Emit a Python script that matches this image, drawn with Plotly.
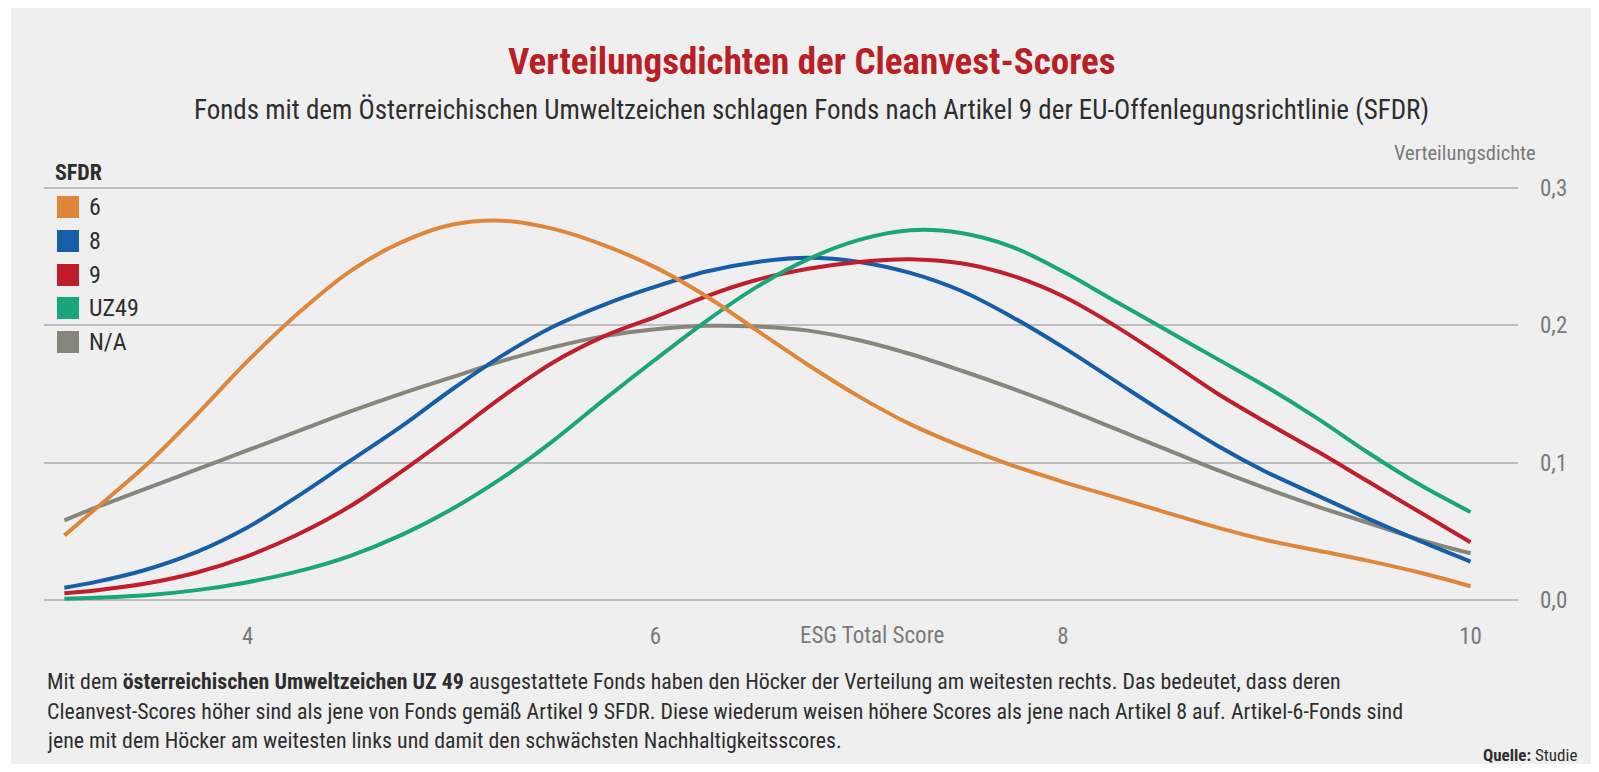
import plotly.graph_objects as go

# ---------------- data ----------------
scores = [3.1, 3.25, 3.5, 3.75, 4.0, 4.25, 4.5, 4.75, 5.0, 5.25, 5.5, 5.75,
          6.0, 6.25, 6.5, 6.75, 7.0, 7.25, 7.5, 7.75, 8.0, 8.25, 8.5, 8.75,
          9.0, 9.25, 9.5, 9.75, 10.0]

sfdr_6 = [0.047, 0.066, 0.098, 0.135, 0.174, 0.209, 0.239, 0.260, 0.273, 0.276,
          0.270, 0.258, 0.242, 0.221, 0.196, 0.171, 0.148, 0.128, 0.112, 0.098,
          0.086, 0.075, 0.064, 0.053, 0.0435, 0.036, 0.0285, 0.020, 0.010]

sfdr_8 = [0.009, 0.013, 0.022, 0.035, 0.053, 0.076, 0.101, 0.126, 0.153, 0.178,
          0.199, 0.215, 0.228, 0.239, 0.246, 0.249, 0.246, 0.238, 0.225, 0.206,
          0.184, 0.160, 0.136, 0.113, 0.093, 0.076, 0.059, 0.043, 0.028]

sfdr_9 = [0.005, 0.007, 0.012, 0.020, 0.032, 0.048, 0.068, 0.093, 0.120, 0.148,
          0.173, 0.192, 0.206, 0.221, 0.233, 0.241, 0.246, 0.248, 0.245, 0.236,
          0.221, 0.200, 0.176, 0.151, 0.129, 0.108, 0.086, 0.064, 0.042]

uz49 = [0.001, 0.0017, 0.0035, 0.0072, 0.013, 0.021, 0.032, 0.047, 0.066, 0.089,
        0.116, 0.146, 0.175, 0.203, 0.228, 0.248, 0.262, 0.269, 0.267, 0.257,
        0.239, 0.218, 0.197, 0.176, 0.155, 0.132, 0.107, 0.084, 0.064]

n_a = [0.058, 0.067, 0.081, 0.095, 0.109, 0.123, 0.137, 0.150, 0.162, 0.174,
       0.184, 0.192, 0.197, 0.1995, 0.199, 0.196, 0.189, 0.179, 0.167, 0.154,
       0.140, 0.125, 0.110, 0.095, 0.081, 0.068, 0.056, 0.044, 0.034]

series_names = ["6", "8", "9", "UZ49", "N/A"]
series_values = [sfdr_6, sfdr_8, sfdr_9, uz49, n_a]
series_colors = ["#de873a", "#165ea6", "#bf1e2d", "#1aa57b", "#86867c"]
draw_order = [4, 1, 2, 3, 0]

x_ticks = [4, 6, 8, 10]
y_ticks = [0.0, 0.1, 0.2, 0.3]

title_text = "Verteilungsdichten der Cleanvest-Scores"
subtitle_text = ("Fonds mit dem Österreichischen Umweltzeichen schlagen Fonds nach "
                 "Artikel 9 der EU-Offenlegungsrichtlinie (SFDR)")
legend_title = "SFDR"
y_title = "Verteilungsdichte"
x_title = "ESG Total Score"
note_lines = [
    "Mit dem <b>österreichischen Umweltzeichen UZ 49</b> ausgestattete Fonds haben den "
    "Höcker der Verteilung am weitesten rechts. Das bedeutet, dass deren",
    "Cleanvest-Scores höher sind als jene von Fonds gemäß Artikel 9 SFDR. Diese wiederum "
    "weisen höhere Scores als jene nach Artikel 8 auf. Artikel-6-Fonds sind",
    "jene mit dem Höcker am weitesten links und damit den schwächsten Nachhaltigkeitsscores.",
]
source_text = "<b>Quelle:</b> Studie"

# ---------------- layout helpers ----------------
# The page body has an 8px margin, so the figure is laid out 8px in from the
# window edge; reference pixel positions are converted accordingly.
OFF = 8
W, H = 1599 - 2 * OFF, 772 - 2 * OFF
L, R, T, B = 44 - OFF, 1518 - OFF, 180 - OFF, 608 - OFF


def px(x):
    return (x - OFF - L) / (R - L)


def py(y):
    return (B - (y - OFF)) / (B - T)


FONT = "Liberation Sans Narrow, Roboto Condensed, DejaVu Sans Condensed, Roboto, sans-serif"
GREY_TXT = "#7a7a7a"
DARK_TXT = "#2e2e2e"

fig = go.Figure()
for i in draw_order:
    fig.add_trace(go.Scatter(
        x=scores, y=series_values[i], mode="lines", name=series_names[i],
        line=dict(color=series_colors[i], width=4, shape="spline", smoothing=1.0),
        showlegend=False,
    ))

shapes = [dict(type="rect", xref="paper", yref="paper",
               x0=px(11), x1=px(1593), y0=py(775), y1=py(7),
               fillcolor="#efefef", line=dict(width=0), layer="below")]

annotations = [
    dict(text=title_text, x=px(812), y=py(61), xref="paper", yref="paper",
         xanchor="center", yanchor="middle", showarrow=False,
         font=dict(family=FONT, size=37, color="#b82025", weight="bold")),
    dict(text=subtitle_text, x=px(812), y=py(110), xref="paper", yref="paper",
         xanchor="center", yanchor="middle", showarrow=False,
         font=dict(family=FONT, size=27, color=DARK_TXT)),
    dict(text=y_title, x=px(1538), y=py(153), xref="paper", yref="paper",
         xanchor="right", yanchor="middle", showarrow=False,
         font=dict(family=FONT, size=20.5, color=GREY_TXT)),
    dict(text=x_title, x=px(872), y=py(635), xref="paper", yref="paper",
         xanchor="center", yanchor="middle", showarrow=False,
         font=dict(family=FONT, size=23, color=GREY_TXT)),
    dict(text="<b>" + legend_title + "</b>", x=px(53), y=py(173), xref="paper", yref="paper",
         xanchor="left", yanchor="middle", showarrow=False,
         font=dict(family=FONT, size=22, color=DARK_TXT)),
    dict(text=source_text, x=px(1579), y=py(755), xref="paper", yref="paper",
         xanchor="right", yanchor="middle", showarrow=False,
         font=dict(family=FONT, size=17, color=DARK_TXT)),
]

legend_rows = [207, 241, 275, 308, 342]
for name, col, yy in zip(series_names, series_colors, legend_rows):
    shapes.append(dict(type="rect", xref="paper", yref="paper",
                       x0=px(57), x1=px(79), y0=py(yy + 11), y1=py(yy - 11),
                       fillcolor=col, line=dict(width=0)))
    annotations.append(dict(text=name, x=px(87), y=py(yy), xref="paper", yref="paper",
                            xanchor="left", yanchor="middle", showarrow=False,
                            font=dict(family=FONT, size=24, color=DARK_TXT)))

for line, yy in zip(note_lines, [681, 711, 740]):
    annotations.append(dict(text=line, x=px(45), y=py(yy), xref="paper", yref="paper",
                            xanchor="left", yanchor="middle", showarrow=False,
                            font=dict(family=FONT, size=21.9, color=DARK_TXT)))

fig.update_layout(
    width=W, height=H,
    margin=dict(l=L, r=W - R, t=T, b=H - B, pad=0),
    paper_bgcolor="white", plot_bgcolor="rgba(0,0,0,0)",
    separators=",.",
    showlegend=False,
    shapes=shapes, annotations=annotations,
    font=dict(family=FONT, color=GREY_TXT),
    xaxis=dict(range=[3.0, 10.233], tickvals=x_ticks, showgrid=False, zeroline=False,
               showline=False, ticks="", ticklabelstandoff=12,
               tickfont=dict(family=FONT, size=23, color=GREY_TXT), fixedrange=True),
    yaxis=dict(range=[-0.0058, 0.3056], tickvals=y_ticks, tickformat=".1f", side="right",
               showgrid=True, gridcolor="#bdbdbd", gridwidth=2, zeroline=False,
               showline=False, ticks="", ticklabelstandoff=21,
               tickfont=dict(family=FONT, size=23, color=GREY_TXT), fixedrange=True),
)

fig.write_html("out.html")
